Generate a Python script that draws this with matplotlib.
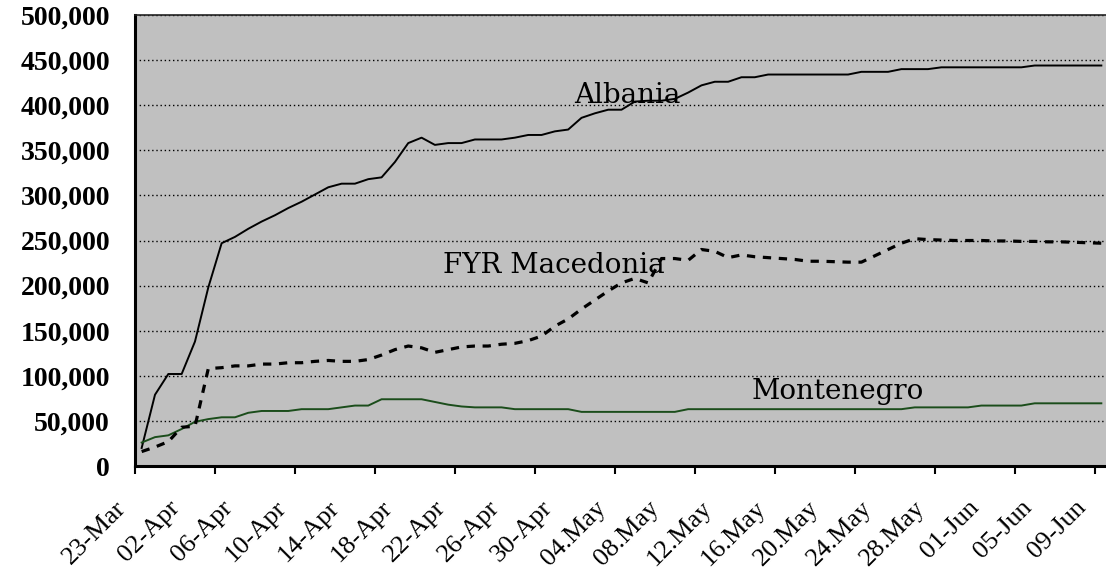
import matplotlib
matplotlib.use("Agg")
import matplotlib.pyplot as plt
import matplotlib.transforms as mtransforms
from matplotlib.ticker import FuncFormatter, FixedLocator
import numpy as np

# refugees by host country, one value per day, 23-Mar .. 09-Jun (thousands)
albania = [20, 79, 102, 102, 138, 198, 247, 254, 263, 271,
           278, 286, 293, 301, 309, 313, 313, 318, 320, 337,
           358, 364, 356, 358, 358, 362, 362, 362, 364, 367,
           367, 371, 373, 386, 391, 395, 395, 404, 405, 405,
           407, 414, 422, 426, 426, 431, 431, 434, 434, 434,
           434, 434, 434, 434, 437, 437, 437, 440, 440, 440,
           442, 442, 442, 442, 442, 442, 442, 444, 444, 444,
           444, 444, 444]
macedonia = [16, 21, 27, 43, 44, 108, 109, 111, 111, 113,
             113, 114.5, 114.5, 116, 117, 116, 116, 118, 123, 129,
             133, 131, 126, 129, 132, 133, 133, 135, 136, 139,
             144, 155, 163, 174, 184, 194, 203, 208, 203, 230,
             230, 228, 240, 238, 231, 234, 232, 231, 230, 229,
             227, 227, 226.5, 226, 226, 233, 240, 247, 252, 251,
             250.5, 250, 250, 250, 249.5, 249.5, 249, 249, 248.5, 248.5,
             248, 247.5, 247]
montenegro = [26, 32, 34, 41, 49, 52, 54, 54, 59, 61,
              61, 61, 63, 63, 63, 65, 67, 67, 74, 74,
              74, 74, 71, 68, 66, 65, 65, 65, 63, 63,
              63, 63, 63, 60, 60, 60, 60, 60, 60, 60,
              60, 63, 63, 63, 63, 63, 63, 63, 63, 63,
              63, 63, 63, 63, 63, 63, 63, 63, 65, 65,
              65, 65, 65, 67, 67, 67, 67, 69.5, 69.5, 69.5,
              69.5, 69.5, 69.5]

date_labels = ["23-Mar", "02-Apr", "06-Apr", "10-Apr", "14-Apr", "18-Apr",
               "22-Apr", "26-Apr", "30-Apr", "04.May", "08.May", "12.May",
               "16.May", "20.May", "24.May", "28.May", "01-Jun", "05-Jun",
               "09-Jun"]

n = len(albania)
x = np.arange(n) + 0.5
scale = 1000

fig = plt.figure(figsize=(11.06, 5.70), dpi=100)
ax = fig.add_axes([135 / 1106, 104 / 570, 973 / 1106, 451 / 570])
ax.set_facecolor("#c0c0c0")

ax.plot(x, np.array(albania) * scale, color="black", lw=1.4, zorder=3)
ax.plot(x, np.array(montenegro) * scale, color="#1b4d1b", lw=1.4, zorder=3)
ax.plot(x, np.array(macedonia) * scale, color="black", lw=2.3,
        linestyle=(0, (2.6, 2.4)), zorder=4)

ax.set_xlim(0, n)
ax.set_ylim(0, 500000)

ax.set_yticks(np.arange(0, 500001, 50000))
ax.yaxis.set_major_formatter(FuncFormatter(lambda v, p: f"{v:,.0f}"))
ax.tick_params(axis="y", length=0, pad=18)
for lab in ax.get_yticklabels():
    lab.set_fontfamily("Liberation Serif")
    lab.set_fontweight("bold")
    lab.set_fontsize(20)

ax.grid(axis="y", color="black", linestyle=(0, (1, 2)), lw=1.0)
ax.set_axisbelow(True)

# tick marks every 6 days, labels every 4 days
ax.xaxis.set_major_locator(FixedLocator(np.arange(0, n + 1, 6)))
ax.xaxis.set_major_formatter(FuncFormatter(lambda v, p: ""))
ax.xaxis.set_minor_locator(FixedLocator(np.arange(0, n, 4) + 0.5))
ax.set_xticklabels(date_labels, minor=True)
ax.tick_params(axis="x", which="major", length=6, width=1.5, direction="out")
ax.tick_params(axis="x", which="minor", length=0, pad=22)
shift = mtransforms.ScaledTranslation(-0.27, 0, fig.dpi_scale_trans)
for lab in ax.get_xticklabels(minor=True):
    lab.set_fontfamily("Liberation Serif")
    lab.set_fontsize(19)
    lab.set_rotation(45)
    lab.set_ha("right")
    lab.set_va("top")
    lab.set_rotation_mode("anchor")
    lab.set_transform(lab.get_transform() + shift)

for side in ("left", "bottom"):
    ax.spines[side].set_linewidth(2.2)
    ax.spines[side].set_color("black")
ax.spines["right"].set_visible(False)
ax.spines["top"].set_linewidth(1.2)
ax.spines["top"].set_color("#222222")

lbl = dict(fontfamily="DejaVu Serif", fontsize=20, ha="center", va="baseline",
           zorder=5)
ax.text(36.9, 402000, "Albania", **lbl)
ax.text(31.4, 213500, "FYR Macedonia", **lbl)
ax.text(52.7, 74000, "Montenegro", **lbl)

fig.savefig("out.png", dpi=100, facecolor="white")
